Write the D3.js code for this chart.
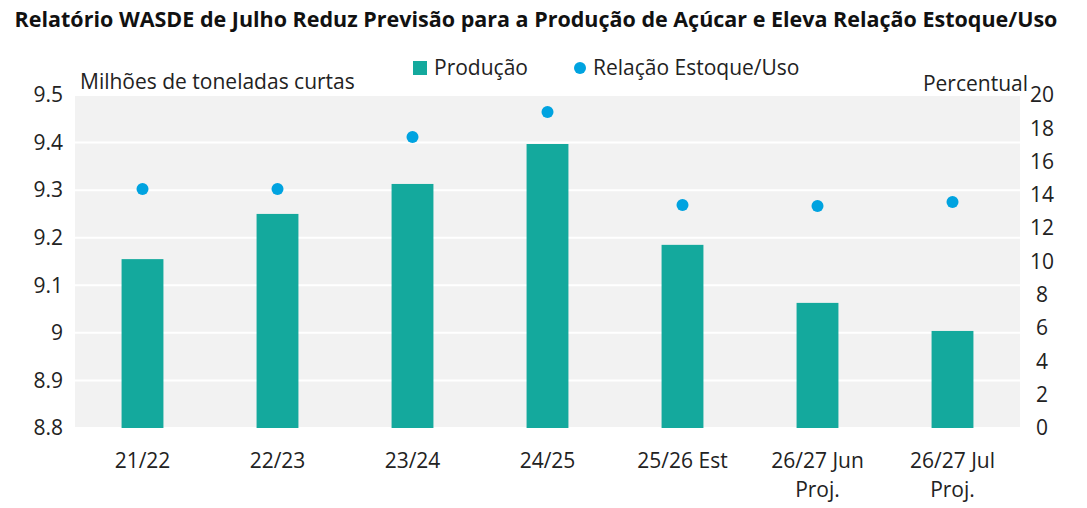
<!DOCTYPE html>
<html><head><meta charset="utf-8">
<script src="https://cdn.jsdelivr.net/npm/d3@7"></script>
<style>body{margin:0;background:#fff;font-family:"Open Sans",sans-serif}</style>
</head><body><svg id="c" width="1087" height="508"></svg>
<script>
const categories = ["21/22", "22/23", "23/24", "24/25", "25/26 Est", "26/27 Jun\nProj.", "26/27 Jul\nProj."];
const production = [9.155, 9.25, 9.313, 9.397, 9.185, 9.063, 9.004];
const stockRatio = [14.35, 14.35, 17.48, 18.98, 13.39, 13.33, 13.57];
const leftTicks = [8.8, 8.9, 9, 9.1, 9.2, 9.3, 9.4, 9.5];
const rightTicks = [0, 2, 4, 6, 8, 10, 12, 14, 16, 18, 20];

const svg = d3.select("#c");
const m = {left: 75, right: 1020, top: 95, bottom: 428};
const FS = 21;

const x = d3.scaleBand().domain(categories).range([m.left, m.right]).paddingInner(0.69).paddingOuter(0.345);
const yL = d3.scaleLinear().domain([8.8, 9.5]).range([m.bottom, m.top]);
const yR = d3.scaleLinear().domain([0, 20]).range([m.bottom, m.top]);

svg.append("rect").attr("x", m.left).attr("y", m.top)
    .attr("width", m.right - m.left).attr("height", m.bottom - m.top).attr("fill", "#f2f2f2");

svg.append("g").selectAll("line").data(leftTicks).join("line")
    .attr("x1", m.left).attr("x2", m.right)
    .attr("y1", d => yL(d)).attr("y2", d => yL(d))
    .attr("stroke", "#fff").attr("stroke-width", 2);

svg.append("g").selectAll("rect").data(production).join("rect")
    .attr("x", (d, i) => x(categories[i])).attr("width", x.bandwidth())
    .attr("y", d => yL(d)).attr("height", d => yL(8.8) - yL(d))
    .attr("fill", "#14a99d");

svg.append("g").selectAll("circle").data(stockRatio).join("circle")
    .attr("cx", (d, i) => x(categories[i]) + x.bandwidth() / 2)
    .attr("cy", d => yR(d)).attr("r", 6).attr("fill", "#00a3e0");

const tickStyle = g => g.call(g => g.select(".domain").remove())
    .call(g => g.selectAll(".tick line").remove())
    .call(g => g.selectAll("text").attr("font-family", "Open Sans").attr("font-size", FS).attr("fill", "#222"));

svg.append("g").attr("transform", `translate(${m.left - 4},0)`)
    .call(d3.axisLeft(yL).tickValues(leftTicks).tickFormat(d3.format("")).tickSize(0).tickPadding(8))
    .call(tickStyle).selectAll("text").attr("text-anchor", "end");

svg.append("g").attr("transform", `translate(${m.right},0)`)
    .call(d3.axisRight(yR).tickValues(rightTicks).tickSize(0).tickPadding(22))
    .call(tickStyle).selectAll("text").attr("text-anchor", "middle");

const xl = svg.append("g").selectAll("text").data(categories).join("text")
    .attr("x", d => x(d) + x.bandwidth() / 2).attr("y", 468)
    .attr("text-anchor", "middle").attr("font-size", FS).attr("fill", "#222");
xl.each(function(d) {
    d.split("\n").forEach((s, i) => d3.select(this).append("tspan")
        .attr("x", x(d) + x.bandwidth() / 2).attr("dy", i ? 29 : 0).text(s));
});

svg.append("text").attr("x", 536).attr("y", 27).attr("text-anchor", "middle")
    .attr("font-size", 21.5).attr("font-weight", "bold").attr("fill", "#111")
    .text("Relatório WASDE de Julho Reduz Previsão para a Produção de Açúcar e Eleva Relação Estoque/Uso");

svg.append("text").attr("x", 80).attr("y", 89).attr("font-size", FS).attr("fill", "#222")
    .text("Milhões de toneladas curtas");
svg.append("text").attr("x", 1028).attr("y", 91).attr("text-anchor", "end").attr("font-size", FS).attr("fill", "#222")
    .text("Percentual");

svg.append("rect").attr("x", 413).attr("y", 61).attr("width", 14).attr("height", 14).attr("fill", "#14a99d");
svg.append("text").attr("x", 434).attr("y", 75).attr("font-size", FS).attr("fill", "#222").text("Produção");
svg.append("circle").attr("cx", 580).attr("cy", 68).attr("r", 6).attr("fill", "#00a3e0");
svg.append("text").attr("x", 593).attr("y", 75).attr("font-size", FS).attr("fill", "#222").text("Relação Estoque/Uso");
</script></body></html>
